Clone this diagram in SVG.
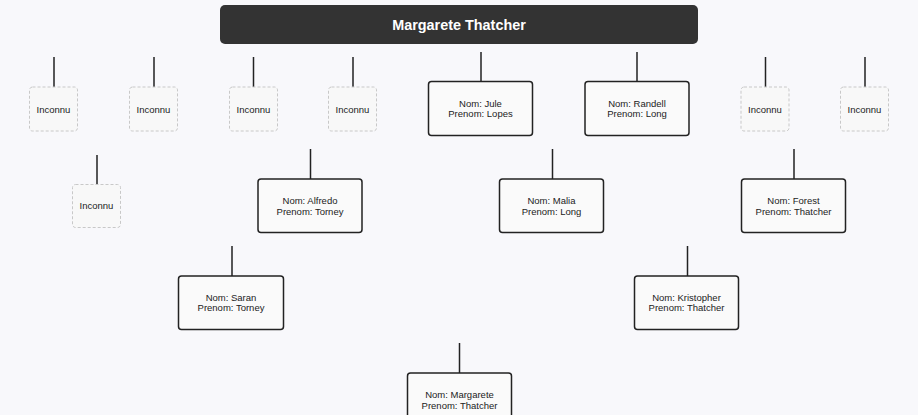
<svg xmlns="http://www.w3.org/2000/svg" width="918" height="415" viewBox="0 0 918 415">
<style>
.bg{fill:#f8f8fb}
.title{fill:#333333}
.tt{font-family:"Liberation Sans",Arial,sans-serif;font-size:14.4px;font-weight:bold;fill:#ffffff;text-anchor:middle}
.p{fill:#fafafa;stroke:#222222;stroke-width:1.5}
.u{fill:#f8f8f8;stroke:#c8c8c8;stroke-width:1;stroke-dasharray:3 2}
.t{font-family:"Liberation Sans",Arial,sans-serif;font-size:9.5px;fill:#222222;text-anchor:middle}
.c{stroke:#222222;stroke-width:1.5;fill:none}
</style>
<rect class="bg" x="0" y="0" width="918" height="415"/>
<g id="title">
<rect class="title" x="220" y="5" width="478" height="39" rx="5"/>
<text class="tt" x="459" y="29.5">Margarete Thatcher</text>
</g>
<g id="connectors">
<line class="c" x1="54" y1="57" x2="54" y2="87"/>
<line class="c" x1="154" y1="57" x2="154" y2="87"/>
<line class="c" x1="253.5" y1="57" x2="253.5" y2="87"/>
<line class="c" x1="353" y1="57" x2="353" y2="87"/>
<line class="c" x1="481" y1="52" x2="481" y2="81.5"/>
<line class="c" x1="637" y1="52" x2="637" y2="81.5"/>
<line class="c" x1="765.5" y1="57" x2="765.5" y2="87"/>
<line class="c" x1="865" y1="57" x2="865" y2="87"/>
<line class="c" x1="97" y1="155" x2="97" y2="184.5"/>
<line class="c" x1="310.5" y1="149" x2="310.5" y2="179"/>
<line class="c" x1="552.5" y1="149" x2="552.5" y2="179"/>
<line class="c" x1="794" y1="149" x2="794" y2="179"/>
<line class="c" x1="232" y1="246" x2="232" y2="276"/>
<line class="c" x1="687.5" y1="246" x2="687.5" y2="276"/>
<line class="c" x1="459.5" y1="343" x2="459.5" y2="373"/>
</g>
<g id="u1"><rect class="u" x="29.5" y="87" width="48" height="44" rx="3"/><text class="t" x="53.5" y="113">Inconnu</text></g>
<g id="u2"><rect class="u" x="129.5" y="87" width="48" height="44" rx="3"/><text class="t" x="153.5" y="113">Inconnu</text></g>
<g id="u3"><rect class="u" x="229.5" y="87" width="48" height="44" rx="3"/><text class="t" x="253.5" y="113">Inconnu</text></g>
<g id="u4"><rect class="u" x="328.5" y="87" width="48" height="44" rx="3"/><text class="t" x="352.5" y="113">Inconnu</text></g>
<g id="jule"><rect class="p" x="428.5" y="81.5" width="104" height="54" rx="3"/><text class="t" x="480.5" y="106.7">Nom: Jule</text><text class="t" x="480.5" y="117.4">Prenom: Lopes</text></g>
<g id="randell"><rect class="p" x="585" y="81.5" width="104" height="54" rx="3"/><text class="t" x="637" y="106.7">Nom: Randell</text><text class="t" x="637" y="117.4">Prenom: Long</text></g>
<g id="u7"><rect class="u" x="741" y="87" width="48" height="44" rx="3"/><text class="t" x="765" y="113">Inconnu</text></g>
<g id="u8"><rect class="u" x="840.5" y="87" width="48" height="44" rx="3"/><text class="t" x="864.5" y="113">Inconnu</text></g>
<g id="u9"><rect class="u" x="72.5" y="184.5" width="48" height="43" rx="3"/><text class="t" x="96.5" y="209">Inconnu</text></g>
<g id="alfredo"><rect class="p" x="258" y="179" width="104" height="53.5" rx="3"/><text class="t" x="310" y="204">Nom: Alfredo</text><text class="t" x="310" y="214.7">Prenom: Torney</text></g>
<g id="malia"><rect class="p" x="499.5" y="179" width="104" height="53.5" rx="3"/><text class="t" x="551.5" y="204">Nom: Malia</text><text class="t" x="551.5" y="214.7">Prenom: Long</text></g>
<g id="forest"><rect class="p" x="741.5" y="179" width="104" height="53.5" rx="3"/><text class="t" x="793.5" y="204">Nom: Forest</text><text class="t" x="793.5" y="214.7">Prenom: Thatcher</text></g>
<g id="saran"><rect class="p" x="178.5" y="276" width="105" height="53.5" rx="3"/><text class="t" x="231" y="300.7">Nom: Saran</text><text class="t" x="231" y="311.4">Prenom: Torney</text></g>
<g id="kristopher"><rect class="p" x="634.5" y="276" width="104" height="53.5" rx="3"/><text class="t" x="686.5" y="300.7">Nom: Kristopher</text><text class="t" x="686.5" y="311.4">Prenom: Thatcher</text></g>
<g id="margarete"><rect class="p" x="407.5" y="373" width="104" height="54" rx="3"/><text class="t" x="459.5" y="398">Nom: Margarete</text><text class="t" x="459.5" y="408.7">Prenom: Thatcher</text></g>
</svg>
